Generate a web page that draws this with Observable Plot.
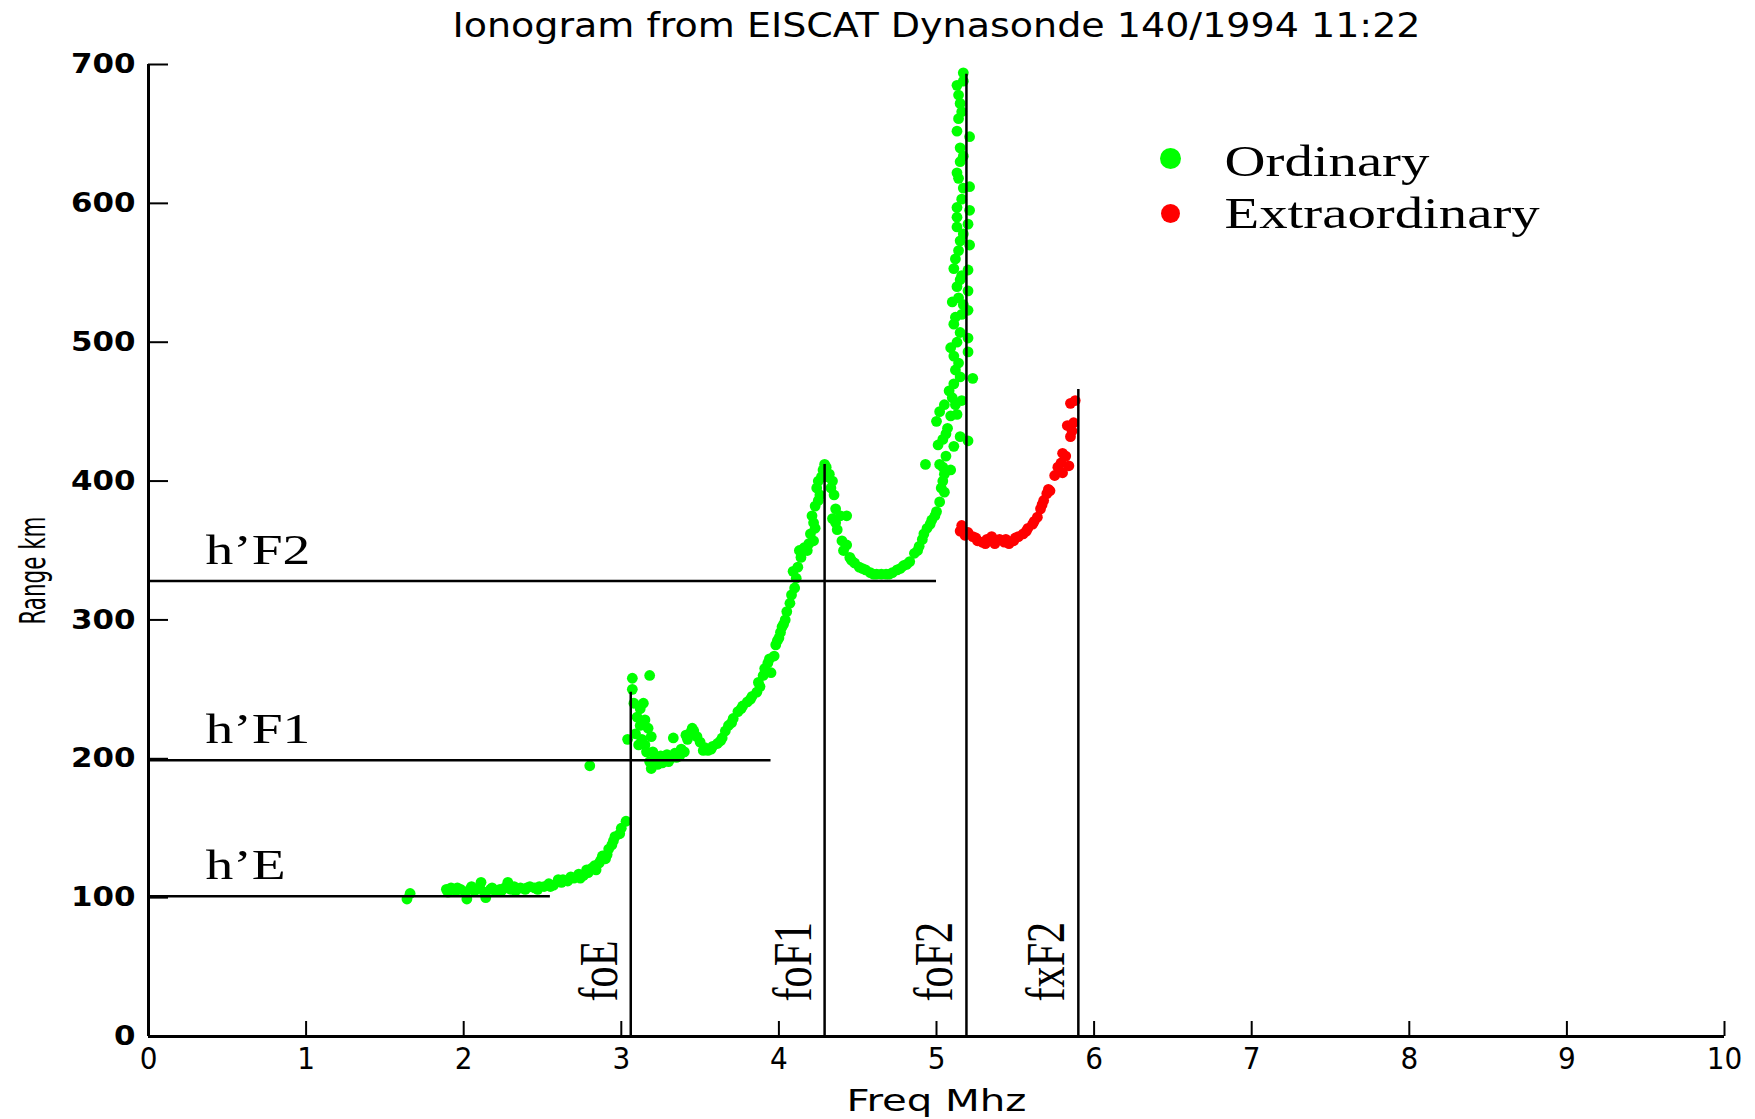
<!DOCTYPE html>
<html>
<head>
<meta charset="utf-8">
<script src="https://cdn.jsdelivr.net/npm/d3@7"></script>
<script src="https://cdn.jsdelivr.net/npm/@observablehq/plot@0.6"></script>
<style>
  html, body { margin: 0; padding: 0; background: #ffffff; }
  #chart svg { display: block; }
</style>
</head>
<body>
<div id="chart"></div>
<script>
// ---------- data ----------
const title = "Ionogram from EISCAT Dynasonde 140/1994 11:22";
const xLabel = "Freq Mhz";
const yLabel = "Range km";
const xTicks = [0, 1, 2, 3, 4, 5, 6, 7, 8, 9, 10];
const yTicks = [0, 100, 200, 300, 400, 500, 600, 700];

// Ordinary trace (frequency MHz, virtual range km)
const ordFreq = [
  // E layer
  1.64, 1.66, 1.89, 1.90, 1.92, 1.95, 1.96, 1.98, 2.01, 2.02, 2.04, 2.05, 2.07, 2.10, 2.11, 2.13,
  2.14, 2.17, 2.18, 2.20, 2.23, 2.24, 2.26, 2.28, 2.30, 2.32, 2.33, 2.36, 2.39, 2.40, 2.42, 2.45,
  2.47, 2.48, 2.51, 2.54, 2.55, 2.57, 2.60, 2.62, 2.63, 2.66, 2.68, 2.70, 2.73, 2.74, 2.76, 2.78,
  2.79, 2.81, 2.83, 2.84, 2.86, 2.87, 2.88, 2.90, 2.91, 2.92, 2.94, 2.95, 2.96, 2.99, 3.00, 3.03,
  2.80,
  // F1 cusp and F1 layer
  3.04, 3.07, 3.07, 3.18, 3.08, 3.10, 3.12, 3.14, 3.15, 3.09, 3.11, 3.12, 3.13, 3.15, 3.17, 3.19,
  3.16, 3.18, 3.19, 3.20, 3.21, 3.22, 3.23, 3.25, 3.26, 3.27, 3.29, 3.30, 3.31, 3.33, 3.34, 3.35,
  3.37, 3.38, 3.40, 3.41, 3.42, 3.44, 3.45, 3.46, 3.48, 3.50, 3.52, 3.53, 3.55, 3.57, 3.58, 3.61,
  3.63, 3.64, 3.66, 3.68, 3.70, 3.71, 3.74, 3.76, 3.77, 3.80, 3.82, 3.83, 3.86, 3.87, 3.88, 3.90,
  3.91, 3.93, 3.94, 3.95, 3.97, 3.98, 3.99, 4.00, 4.01, 4.02, 4.03, 4.04, 4.05, 4.07, 4.08, 4.10,
  4.09, 4.11, 4.12, 4.13, 4.14, 4.16, 4.18, 4.19, 4.20, 4.22, 4.22, 4.23, 4.21, 4.23, 4.25, 4.26,
  4.24, 4.25, 4.27, 4.28, 4.29, 4.30, 4.31, 4.32, 4.33, 4.34, 4.35, 4.36, 4.36, 4.34, 4.39, 4.43,
  4.37, 4.40, 4.41, 4.43, 4.45, 4.46, 4.48, 4.51, 4.53, 4.55, 4.58, 4.60, 4.62, 4.65, 4.68, 4.70,
  4.72, 4.75, 4.77, 4.79, 4.81, 4.83, 4.86, 4.88, 4.89, 4.91, 4.92, 4.94, 4.96, 4.97, 4.99, 5.00,
  // F2 layer
  5.02, 5.03, 5.04, 5.05, 4.93, 5.02, 5.04, 5.05, 5.09, 5.06, 5.01, 5.04, 5.06, 5.11, 5.07, 5.00,
  5.02, 5.05, 5.13, 5.15, 5.20, 5.09, 5.12, 5.16, 5.10, 5.08, 5.11, 5.15, 5.23, 5.12, 5.14, 5.11,
  5.09, 5.13, 5.15, 5.20, 5.20, 5.11, 5.12, 5.16, 5.20, 5.17, 5.10, 5.14, 5.20, 5.13, 5.15, 5.16,
  5.11, 5.20, 5.12, 5.14, 5.15, 5.21, 5.17, 5.13, 5.20, 5.13, 5.13, 5.21, 5.16, 5.17, 5.21, 5.14,
  5.13, 5.15, 5.17, 5.15, 5.21, 5.13, 5.14, 5.16, 5.15, 5.14, 5.13, 5.17, 5.17
];
const ordRange = [
  // E layer
  99, 103, 106, 104, 107, 105, 107, 106, 104, 99, 106, 108, 105, 107, 111, 104,
  100, 106, 107, 105, 106, 105, 107, 111, 106, 108, 105, 107, 106, 107, 108, 107,
  106, 108, 108, 110, 108, 109, 113, 111, 113, 112, 115, 114, 117, 114, 116, 120,
  118, 121, 123, 120, 125, 127, 130, 128, 131, 135, 138, 141, 144, 146, 150, 155,
  195,
  // F1 cusp and F1 layer
  214, 250, 258, 260, 240, 230, 236, 240, 228, 218, 210, 224, 214, 210, 222, 216,
  205, 198, 193, 205, 200, 198, 196, 202, 197, 199, 203, 198, 200, 215, 204, 201,
  202, 207, 205, 217, 214, 219, 222, 220, 216, 212, 206, 208, 206, 207, 209, 211,
  213, 215, 220, 224, 226, 229, 234, 236, 238, 241, 243, 245, 248, 255, 252, 260,
  265, 269, 272, 262, 274, 282, 285, 287, 291, 295, 297, 300, 306, 312, 318, 323,
  335, 330, 338, 350, 345, 352, 350, 355, 362, 357, 370, 366, 375, 382, 386, 390,
  395, 400, 403, 408, 412, 410, 403, 405, 395, 400, 390, 380, 370, 373, 375, 375,
  365, 357, 350, 354, 345, 343, 341, 338, 337, 336, 334, 333, 333, 333, 333, 333,
  334, 336, 337, 339, 340, 342, 348, 350, 353, 358, 362, 366, 369, 372, 375, 378,
  // F2 layer
  385, 395, 400, 392, 412, 412, 410, 405, 408, 418, 426, 430, 434, 425, 438, 443,
  450, 455, 448, 432, 429, 447, 455, 458, 460, 465, 470, 475, 474, 480, 485, 490,
  496, 500, 507, 503, 493, 513, 518, 520, 523, 527, 529, 532, 537, 540, 545, 548,
  553, 552, 560, 566, 573, 570, 578, 583, 585, 590, 597, 595, 603, 611, 612, 618,
  622, 630, 634, 640, 648, 652, 661, 666, 672, 678, 685, 688, 694
];

// Extraordinary trace
const extFreq = [
  5.15, 5.16, 5.18, 5.20, 5.23, 5.25, 5.26, 5.29, 5.31, 5.32, 5.35, 5.37, 5.38, 5.40, 5.43, 5.44,
  5.46, 5.49, 5.50, 5.52, 5.55, 5.57, 5.58, 5.61, 5.62, 5.64, 5.66, 5.67, 5.68, 5.70, 5.71, 5.72,
  5.75, 5.77, 5.79, 5.80, 5.80, 5.82, 5.84, 5.85, 5.86, 5.83, 5.87, 5.85, 5.88
];
const extRange = [
  364, 368, 361, 363, 360, 359, 357, 356, 355, 358, 360, 355, 357, 358, 356, 358,
  355, 357, 359, 360, 362, 364, 366, 369, 371, 374, 380, 383, 386, 391, 394, 393,
  404, 410, 413, 406, 420, 418, 411, 432, 436, 440, 442, 456, 458
];

// Virtual heights (horizontal markers)
const heightLabels = ["h\u2019E", "h\u2019F1", "h\u2019F2"];
const heightValues = [101, 199, 328];
const heightEnds = [2.55, 3.95, 5.0];

// Critical frequencies (vertical markers)
const critLabels = ["foE", "foF1", "foF2", "fxF2"];
const critFreqs = [3.06, 4.29, 5.19, 5.90];
const critTops = [248, 412, 693, 466];

// Legend
const legendLabels = ["Ordinary", "Extraordinary"];
const legendColors = ["#00ff00", "#ff0000"];

// ---------- tables built from the arrays ----------
const ordinary = ordFreq.map((f, i) => ({freq: f, range: ordRange[i]}));
const extraordinary = extFreq.map((f, i) => ({freq: f, range: extRange[i]}));
const heightLines = heightLabels.map((label, i) => ({label, range: heightValues[i], end: heightEnds[i]}));
const critLines = critLabels.map((label, i) => ({label, freq: critFreqs[i], top: critTops[i]}));

const SERIF = "'Liberation Serif', 'DejaVu Serif', 'Times New Roman', serif";
const NARROW = "'Liberation Sans Narrow', 'DejaVu Sans Condensed', 'Liberation Sans', Arial, sans-serif";
const WIDE = "'DejaVu Sans', 'Liberation Sans', sans-serif";

const chart = Plot.plot({
  width: 1755,
  height: 1119,
  marginLeft: 148,
  marginRight: 31,
  marginTop: 64,
  marginBottom: 83,
  style: {background: "#ffffff", color: "#000000", overflow: "visible"},
  x: {domain: [0, 10]},
  y: {domain: [0, 700]},
  marks: [
    Plot.dot(ordinary, {x: "freq", y: "range", r: 5.4, fill: legendColors[0], stroke: "none"}),
    Plot.dot(extraordinary, {x: "freq", y: "range", r: 5.4, fill: legendColors[1], stroke: "none"}),
    Plot.ruleY(heightLines, {y: "range", x1: 0, x2: "end", stroke: "#000", strokeWidth: 2.5}),
    Plot.ruleX(critLines, {x: "freq", y1: 0, y2: "top", stroke: "#000", strokeWidth: 2.5}),
    Plot.text(heightLines, {
      x: 0, y: "range", text: "label", textAnchor: "start", lineAnchor: "bottom",
      dx: 57, dy: -17, fontSize: 43, fontFamily: SERIF, fill: "#000"
    }),
    Plot.text(critLines, {
      x: "freq", y: 0, text: "label", rotate: -90, textAnchor: "start", lineAnchor: "bottom",
      dx: -14, dy: -35, fontSize: 54, fontFamily: SERIF, fill: "#000"
    }),
    // axes
    Plot.axisY({
      ticks: yTicks, tickSize: -20, tickPadding: 33, strokeWidth: 2, label: null,
      fontSize: 27, fontWeight: "bold", fontFamily: WIDE
    }),
    Plot.axisX({
      ticks: xTicks, tickSize: -15, tickPadding: 25, strokeWidth: 2, label: null,
      fontSize: 31, fontFamily: NARROW
    }),
    Plot.ruleX([0], {stroke: "#000", strokeWidth: 3}),
    Plot.ruleY([0], {stroke: "#000", strokeWidth: 3}),
    // axis titles and chart title
    Plot.text([xLabel], {
      frameAnchor: "bottom", text: d => d, lineAnchor: "bottom", dy: 74,
      fontSize: 30, fontFamily: NARROW, fill: "#000"
    }),
    Plot.text([yLabel], {
      frameAnchor: "left", text: d => d, rotate: -90, textAnchor: "middle", lineAnchor: "bottom",
      dx: -104, dy: 20, fontSize: 36, fontFamily: NARROW, fill: "#000"
    }),
    Plot.text([title], {
      frameAnchor: "top", text: d => d, lineAnchor: "bottom", dy: -28,
      fontSize: 34, fontFamily: NARROW, fill: "#000"
    }),
    // legend
    ...legendLabels.map((label, i) => Plot.dot([label], {
      frameAnchor: "top-left", dx: 1022, dy: 94 + i * 55, r: i === 0 ? 10.5 : 9.5,
      fill: legendColors[i], stroke: "none"
    })),
    ...legendLabels.map((label, i) => Plot.text([label], {
      frameAnchor: "top-left", text: d => d, textAnchor: "start", lineAnchor: "bottom",
      dx: 1076, dy: 111 + i * 52, fontSize: 44, fontFamily: SERIF, fill: "#000"
    }))
  ]
});

document.getElementById("chart").append(chart);

// ---------- text stretching to mimic the stretched raster fonts ----------
const svg = d3.select(chart);
svg.selectAll("text").each(function () {
  const t = this.textContent;
  if (t === title) {
    this.setAttribute("textLength", 968);
    this.setAttribute("lengthAdjust", "spacingAndGlyphs");
  } else if (t === xLabel) {
    this.setAttribute("textLength", 180);
    this.setAttribute("lengthAdjust", "spacingAndGlyphs");
  } else if (t === yLabel) {
    this.setAttribute("textLength", 108);
    this.setAttribute("lengthAdjust", "spacingAndGlyphs");
  } else if (heightLabels.includes(t) || legendLabels.includes(t)) {
    const w = this.getComputedTextLength();
    this.setAttribute("textLength", w * 1.29);
    this.setAttribute("lengthAdjust", "spacingAndGlyphs");
  } else if (critLabels.includes(t)) {
    const w = this.getComputedTextLength();
    this.setAttribute("textLength", w / 1.28);
    this.setAttribute("lengthAdjust", "spacingAndGlyphs");
  }
});
svg.selectAll('g[aria-label="y-axis tick label"] text').each(function () {
  const n = this.textContent.length;
  this.setAttribute("textLength", n * 21.5);
  this.setAttribute("lengthAdjust", "spacingAndGlyphs");
});
</script>
</body>
</html>
